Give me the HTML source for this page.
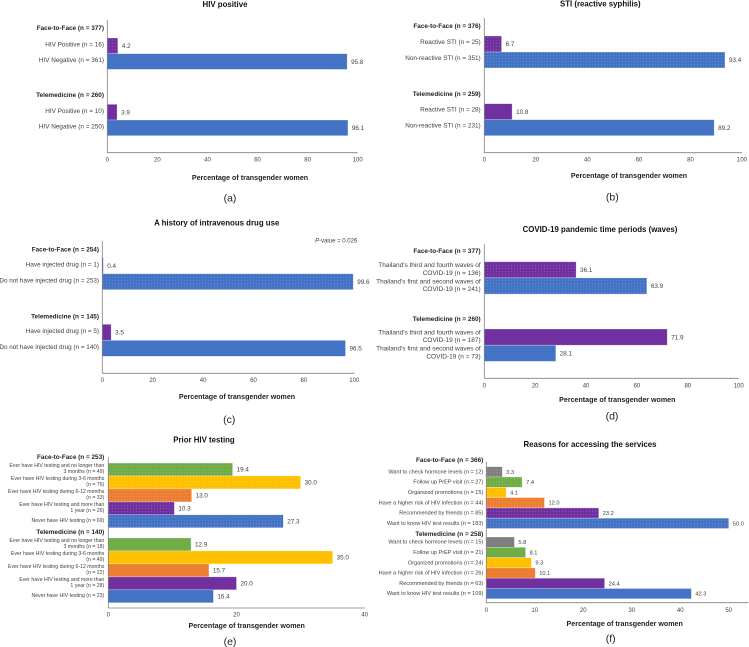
<!DOCTYPE html>
<html>
<head>
<meta charset="utf-8">
<title>Transgender women service access charts</title>
<style>
html,body{margin:0;padding:0;background:#fff;width:749px;height:647px;overflow:hidden}
svg{display:block;filter:blur(0.3px)}
text{font-family:"Liberation Sans",sans-serif}
</style>
</head>
<body>
<svg id="figure" width="749" height="647" viewBox="0 0 749 647" xmlns="http://www.w3.org/2000/svg">
<defs id="defs"></defs>
</svg>
<script>
// ---- Data: values ----
const groupsA = ['Face-to-Face (n = 377)', 'Telemedicine (n = 260)'];
const categoriesA = [['HIV Positive (n = 16)', 'HIV Negative (n = 361)'], ['HIV Positive (n = 10)', 'HIV Negative (n = 250)']];
const valuesA = [[4.2, 95.8], [3.9, 96.1]];
const ticksA = [0, 20, 40, 60, 80, 100];

const groupsB = ['Face-to-Face (n = 376)', 'Telemedicine (n = 259)'];
const categoriesB = [['Reactive STI (n = 25)', 'Non-reactive STI (n = 351)'], ['Reactive STI (n = 28)', 'Non-reactive STI (n = 231)']];
const valuesB = [[6.7, 93.4], [10.8, 89.2]];
const ticksB = [0, 20, 40, 60, 80, 100];

const groupsC = ['Face-to-Face (n = 254)', 'Telemedicine (n = 145)'];
const categoriesC = [['Have injected drug (n = 1)', 'Do not have injected drug (n = 253)'], ['Have injected drug (n = 5)', 'Do not have injected drug (n = 140)']];
const valuesC = [[0.4, 99.6], [3.5, 96.5]];
const ticksC = [0, 20, 40, 60, 80, 100];

const groupsD = ['Face-to-Face (n = 377)', 'Telemedicine (n = 260)'];
const categoriesD = [
  ["Thailand's third and fourth waves of |COVID-19 (n = 136)", "Thailand's first and second waves of |COVID-19 (n = 241)"],
  ["Thailand's third and fourth waves of |COVID-19 (n = 187)", "Thailand's first and second waves of |COVID-19 (n = 73)"]
];
const valuesD = [[36.1, 63.9], [71.9, 28.1]];
const ticksD = [0, 20, 40, 60, 80, 100];

const groupsE = ['Face-to-Face (n = 253)', 'Telemedicine (n = 140)'];
const categoriesE = [
  ['Ever have HIV testing and no longer than|3 months (n = 49)', 'Ever have HIV testing during 3-6 months|(n = 76)', 'Ever have HIV testing during 6-12 months|(n = 33)', 'Ever have HIV testing and more than|1 year (n = 26)', 'Never have HIV testing (n = 69)'],
  ['Ever have HIV testing and no longer than|3 months (n = 18)', 'Ever have HIV testing during 3-6 months|(n = 49)', 'Ever have HIV testing during 6-12 months|(n = 22)', 'Ever have HIV testing and more than|1 year  (n = 28)', 'Never have HIV testing (n = 23)']
];
const valuesE = [[19.4, 30.0, 13.0, 10.3, 27.3], [12.9, 35.0, 15.7, 20.0, 16.4]];
const ticksE = [0, 20, 40];

const groupsF = ['Face-to-Face (n = 366)', 'Telemedicine (n = 258)'];
const categoriesF = [
  ['Want to check hormone levels (n = 12)', 'Follow up PrEP visit (n = 27)', 'Organized promotions (n = 15)', 'Have a higher risk of HIV infection (n = 44)', 'Recommended by friends (n = 85)', 'Want to know HIV test results (n = 183)'],
  ['Want to check hormone levels (n = 15)', 'Follow up PrEP visit (n = 21)', 'Organized promotions (n = 24)', 'Have a higher risk of HIV infection (n = 26)', 'Recommended by friends (n = 63)', 'Want to know HIV test results (n = 109)']
];
const valuesF = [[3.3, 7.4, 4.1, 12.0, 23.2, 50.0], [5.8, 8.1, 9.3, 10.1, 24.4, 42.3]];
const ticksF = [0, 10, 20, 30, 40, 50];

// ---- Layout and style (separate from the data) ----
const palette = ['#4472C4', '#7030A0', '#ED7D31', '#FFC000', '#70AD47', '#7F7F7F'];
const NS = 'http://www.w3.org/2000/svg';
const root = document.getElementById('figure');
const defs = document.getElementById('defs');

const panels = [
  {id:'a', title:'HIV positive', caption:'(a)', groups:groupsA, cats:categoriesA, vals:valuesA, ticks:ticksA,
   x0:107.3, xMax:357.7, axisEnd:357.7, axisTop:20, axisBottom:152.7, rowH:15.7, tops:[38,104.3], heads:[27.7,95],
   labelRight:104, labelDy:-1.6, lh:7, labelSize:6.4, valueSize:6.3, tickY:159.5, tickSize:6,
   titleX:225, titleY:4.5, axisTitleX:250, axisTitleY:177.3, capX:230, capY:197.7, solid:[[false,true],[true,true]]},
  {id:'b', title:'STI (reactive syphilis)', caption:'(b)', groups:groupsB, cats:categoriesB, vals:valuesB, ticks:ticksB,
   x0:484.3, xMax:742, axisEnd:742, axisTop:18, axisBottom:152.7, rowH:16, tops:[36,103.7], heads:[26,93.7],
   labelRight:480.7, labelDy:-2.3, lh:7, labelSize:6.4, valueSize:6.3, tickY:159.5, tickSize:6,
   titleX:600.3, titleY:3.7, axisTitleX:629, axisTitleY:175.7, capX:612.3, capY:197, solid:[[false,false],[true,true]]},
  {id:'c', title:'A history of intravenous drug use', caption:'(c)', groups:groupsC, cats:categoriesC, vals:valuesC, ticks:ticksC,
   x0:102.3, xMax:354.3, axisEnd:354.3, axisTop:240.7, axisBottom:373.3, rowH:16, tops:[257.7,324.3], heads:[249.3,316.3],
   labelRight:99, labelDy:-1.4, lh:7, labelSize:6.35, valueSize:6.3, tickY:380, tickSize:6,
   titleX:216.7, titleY:223, axisTitleX:237, axisTitleY:396.3, capX:229.3, capY:419.5, solid:[[false,false],[true,true]], pValue:true},
  {id:'d', title:'COVID-19 pandemic time periods (waves)', caption:'(d)', groups:groupsD, cats:categoriesD, vals:valuesD, ticks:ticksD,
   x0:484.3, xMax:738.7, axisEnd:738.7, axisTop:244, axisBottom:378.3, rowH:16.2, tops:[261.7,329], heads:[251,318.7],
   labelRight:480.7, labelDy:-1, lh:7.7, labelSize:6.5, valueSize:6.3, tickY:385.3, tickSize:6,
   titleX:600, titleY:229.3, axisTitleX:617.3, axisTitleY:399.3, capX:612, capY:416, solid:[[false,false],[true,true]]},
  {id:'e', title:'Prior HIV testing', caption:'(e)', groups:groupsE, cats:categoriesE, vals:valuesE, ticks:ticksE,
   x0:108.3, xMax:364.7, axisEnd:364.7, axisTop:457.3, axisBottom:608, rowH:12.95, tops:[463,538], heads:[457,531.7],
   labelRight:104.3, labelDy:-1.2, lh:6.3, labelSize:5.2, valueSize:6.3, tickY:614.3, tickSize:6,
   titleX:204, titleY:440, axisTitleX:246.7, axisTitleY:625.7, capX:230, capY:641.3, solid:[[false,false,false,false,false],[true,true,true,true,true]]},
  {id:'f', title:'Reasons for accessing the services', caption:'(f)', groups:groupsF, cats:categoriesF, vals:valuesF, ticks:ticksF,
   x0:486.3, xMax:728.7, axisEnd:748.3, axisTop:461.7, axisBottom:602.7, rowH:10.3, tops:[466.7,537], heads:[459.7,533.7],
   labelRight:483.3, labelDy:-0.4, lh:6, labelSize:5.55, valueSize:5.7, tickY:610, tickSize:6,
   titleX:590, titleY:444.3, axisTitleX:624.7, axisTitleY:623.7, capX:610.7, capY:638.3, solid:[[false,false,false,false,false,false],[true,true,true,true,true,true]]}
];

function make(tag, parent, attrs) {
  const node = document.createElementNS(NS, tag);
  for (const key in attrs) node.setAttribute(key, attrs[key]);
  parent.appendChild(node);
  return node;
}

function addText(parent, x, y, str, size, anchor, weight, fill) {
  const node = make('text', parent, {x: x, y: y + size * 0.35, 'font-size': size, 'text-anchor': anchor, 'font-weight': weight, fill: fill});
  node.textContent = str;
  return node;
}

// dotted pattern per palette colour
palette.forEach(function (color, i) {
  const p = make('pattern', defs, {id: 'dots' + i, width: 3, height: 3, patternUnits: 'userSpaceOnUse'});
  make('rect', p, {width: 3, height: 3, fill: color});
  make('rect', p, {x: 1, y: 1, width: 1, height: 1, fill: '#fff', 'fill-opacity': 0.17});
});

panels.forEach(function (cfg) {
  const domainMax = cfg.ticks[cfg.ticks.length - 1];
  const xScale = function (v) { return cfg.x0 + (cfg.xMax - cfg.x0) * v / domainMax; };
  const yBand = function (g, r) { return cfg.tops[g] + r * cfg.rowH; };

  const g = make('g', root, {});
  
  

  const title = addText(g, cfg.titleX, cfg.titleY, cfg.title, 7.85, 'middle', 'bold', '#111');
  
  

  cfg.groups.forEach(function (groupName, gi) {
    const head = addText(g, cfg.labelRight, cfg.heads[gi], groupName, 6.4, 'end', 'bold', '#222');
    
    

    cfg.vals[gi].forEach(function (value, ri) {
      const count = cfg.vals[gi].length;
      const colorIndex = count - 1 - ri;
      const top = yBand(gi, ri);
      const fill = cfg.solid[gi][ri] ? palette[colorIndex] : 'url(#dots' + colorIndex + ')';

      const bar = make('rect', g, {x: xScale(0), y: top, width: xScale(value) - xScale(0), height: cfg.rowH, fill: fill, stroke: '#fff', 'stroke-opacity': 0.45, 'stroke-width': 0.6});
      
      

      const mid = top + cfg.rowH / 2;
      const valueLabel = addText(g, xScale(value) + 4, mid, value.toFixed(1), cfg.valueSize, 'start', 'normal', '#404040');
      
      

      const lines = cfg.cats[gi][ri].split('|');
      lines.forEach(function (line, li) {
        const ly = mid + cfg.labelDy + (li - (lines.length - 1) / 2) * cfg.lh;
        const rowLabel = addText(g, cfg.labelRight, ly, line, cfg.labelSize, 'end', 'normal', '#404040');
        
        
      });
    });
  });

  const yAxis = make('line', g, {x1: cfg.x0, x2: cfg.x0, y1: cfg.axisTop, y2: cfg.axisBottom, stroke: '#7f7f7f', 'stroke-width': 0.8});
  
  

  const xAxis = make('line', g, {x1: cfg.x0, x2: cfg.axisEnd, y1: cfg.axisBottom, y2: cfg.axisBottom, stroke: '#7f7f7f', 'stroke-width': 0.8});
  
  

  cfg.ticks.forEach(function (t) {
    const tick = addText(g, xScale(t), cfg.tickY, String(t), cfg.tickSize, 'middle', 'normal', '#404040');
    
    
  });

  const axisTitle = addText(g, cfg.axisTitleX, cfg.axisTitleY, 'Percentage of transgender women', 7.1, 'middle', 'bold', '#222');
  
  

  const caption = addText(g, cfg.capX, cfg.capY, cfg.caption, 10.5, 'middle', 'normal', '#222');
  
  

  if (cfg.pValue) {
    const pv = addText(g, 357.3, 240.3, '', 6, 'end', 'normal', '#404040');
    const it = make('tspan', pv, {'font-style': 'italic'});
    it.textContent = 'P';
    const rest = make('tspan', pv, {});
    rest.textContent = '-value = 0.026';
    
    
  }
});
</script>
</body>
</html>
